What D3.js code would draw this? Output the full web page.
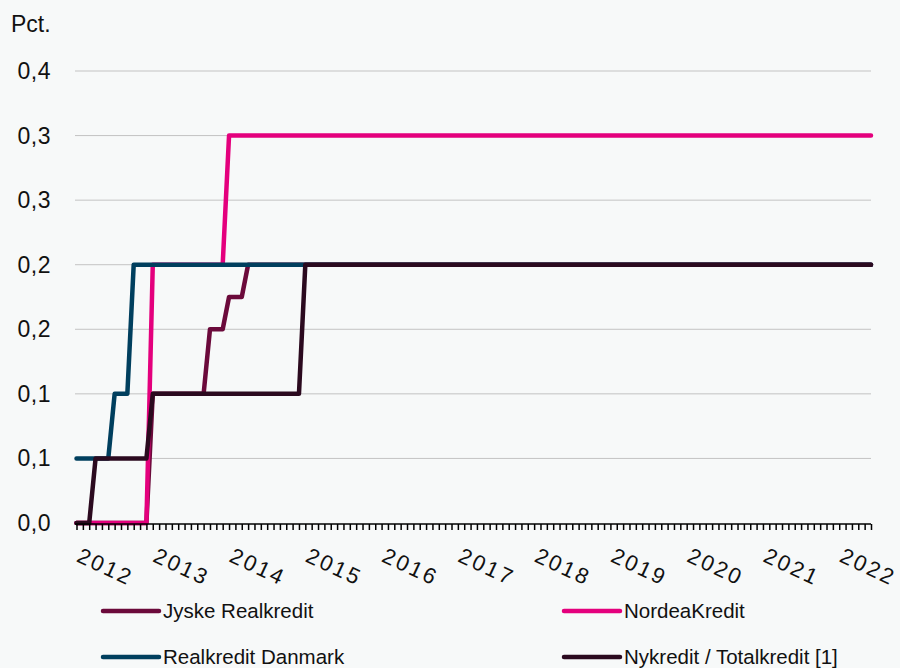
<!DOCTYPE html>
<html>
<head>
<meta charset="utf-8">
<script src="https://cdn.jsdelivr.net/npm/d3@7"></script>
<style>
  html, body { margin: 0; padding: 0; background: #f7f9f9; }
  svg { display: block; font-family: Arial, "Liberation Sans", sans-serif; }
</style>
</head>
<body>
<svg id="chart" width="900" height="668"></svg>
<script>
// ---- data ----
const startMonth = "2012-01";
const endMonth = "2022-06";
const yearLabels = ["2012","2013","2014","2015","2016","2017","2018","2019","2020","2021","2022"];
const yTicks = [0, 0.05, 0.10, 0.15, 0.20, 0.25, 0.30, 0.35];
const yTickLabels = ["0,0","0,1","0,1","0,2","0,2","0,3","0,3","0,4"];
const seriesNames = ["Jyske Realkredit", "NordeaKredit", "Realkredit Danmark", "Nykredit / Totalkredit [1]"];
const seriesColors = ["#6b0a3b", "#e4007d", "#003f5e", "#2b0a1f"];

const jyske = [
  0,0,0,0,0,0,0,0,0,0,0,0,
  .1,.1,.1,.1,.1,.1,.1,.1,.1,.15,.15,.15,
  .175,.175,.175,.2,.2,.2,.2,.2,.2,.2,.2,.2,
  .2,.2,.2,.2,.2,.2,.2,.2,.2,.2,.2,.2,
  .2,.2,.2,.2,.2,.2,.2,.2,.2,.2,.2,.2,
  .2,.2,.2,.2,.2,.2,.2,.2,.2,.2,.2,.2,
  .2,.2,.2,.2,.2,.2,.2,.2,.2,.2,.2,.2,
  .2,.2,.2,.2,.2,.2,.2,.2,.2,.2,.2,.2,
  .2,.2,.2,.2,.2,.2,.2,.2,.2,.2,.2,.2,
  .2,.2,.2,.2,.2,.2,.2,.2,.2,.2,.2,.2,
  .2,.2,.2,.2,.2,.2
];
const nordea = [
  0,0,0,0,0,0,0,0,0,0,0,0,
  .2,.2,.2,.2,.2,.2,.2,.2,.2,.2,.2,.2,
  .3,.3,.3,.3,.3,.3,.3,.3,.3,.3,.3,.3,
  .3,.3,.3,.3,.3,.3,.3,.3,.3,.3,.3,.3,
  .3,.3,.3,.3,.3,.3,.3,.3,.3,.3,.3,.3,
  .3,.3,.3,.3,.3,.3,.3,.3,.3,.3,.3,.3,
  .3,.3,.3,.3,.3,.3,.3,.3,.3,.3,.3,.3,
  .3,.3,.3,.3,.3,.3,.3,.3,.3,.3,.3,.3,
  .3,.3,.3,.3,.3,.3,.3,.3,.3,.3,.3,.3,
  .3,.3,.3,.3,.3,.3,.3,.3,.3,.3,.3,.3,
  .3,.3,.3,.3,.3,.3
];
const realkredit = [
  .05,.05,.05,.05,.05,.05,.1,.1,.1,.2,.2,.2,
  .2,.2,.2,.2,.2,.2,.2,.2,.2,.2,.2,.2,
  .2,.2,.2,.2,.2,.2,.2,.2,.2,.2,.2,.2,
  .2,.2,.2,.2,.2,.2,.2,.2,.2,.2,.2,.2,
  .2,.2,.2,.2,.2,.2,.2,.2,.2,.2,.2,.2,
  .2,.2,.2,.2,.2,.2,.2,.2,.2,.2,.2,.2,
  .2,.2,.2,.2,.2,.2,.2,.2,.2,.2,.2,.2,
  .2,.2,.2,.2,.2,.2,.2,.2,.2,.2,.2,.2,
  .2,.2,.2,.2,.2,.2,.2,.2,.2,.2,.2,.2,
  .2,.2,.2,.2,.2,.2,.2,.2,.2,.2,.2,.2,
  .2,.2,.2,.2,.2,.2
];
const nykredit = [
  0,0,0,.05,.05,.05,.05,.05,.05,.05,.05,.05,
  .1,.1,.1,.1,.1,.1,.1,.1,.1,.1,.1,.1,
  .1,.1,.1,.1,.1,.1,.1,.1,.1,.1,.1,.1,
  .2,.2,.2,.2,.2,.2,.2,.2,.2,.2,.2,.2,
  .2,.2,.2,.2,.2,.2,.2,.2,.2,.2,.2,.2,
  .2,.2,.2,.2,.2,.2,.2,.2,.2,.2,.2,.2,
  .2,.2,.2,.2,.2,.2,.2,.2,.2,.2,.2,.2,
  .2,.2,.2,.2,.2,.2,.2,.2,.2,.2,.2,.2,
  .2,.2,.2,.2,.2,.2,.2,.2,.2,.2,.2,.2,
  .2,.2,.2,.2,.2,.2,.2,.2,.2,.2,.2,.2,
  .2,.2,.2,.2,.2,.2
];
const seriesValues = [jyske, nordea, realkredit, nykredit];

// ---- build ----
const parseM = d3.timeParse("%Y-%m");
const fmtM = d3.timeFormat("%Y-%m");
const months = d3.timeMonth.range(parseM(startMonth), d3.timeMonth.offset(parseM(endMonth), 1)).map(fmtM);

const svg = d3.select("#chart");
const plotLeft = 76.5, plotRight = 871, plotTop = 71, plotBottom = 523;

const x = d3.scalePoint().domain(months).range([plotLeft, plotRight]);
const y = d3.scaleLinear().domain([0, 0.35]).range([plotBottom, plotTop]);

// gridlines
svg.append("g").selectAll("line")
  .data(yTicks.filter(d => d > 0))
  .join("line")
  .attr("x1", 75).attr("x2", plotRight)
  .attr("y1", d => y(d)).attr("y2", d => y(d))
  .attr("stroke", "#c3c3c3").attr("stroke-width", 1);

// y labels
svg.append("g").selectAll("text")
  .data(yTicks)
  .join("text")
  .attr("x", 51).attr("y", d => y(d) + 8)
  .attr("text-anchor", "end")
  .attr("font-size", 23)
  .attr("letter-spacing", 0.5)
  .attr("fill", "#111")
  .text((d, i) => yTickLabels[i]);

svg.append("text")
  .attr("x", 11).attr("y", 32)
  .attr("font-size", 23)
  .attr("fill", "#111")
  .text("Pct.");

// lines
const line = d3.line().x((d, i) => x(months[i])).y(d => y(d));
svg.append("g").selectAll("path")
  .data(seriesValues)
  .join("path")
  .attr("d", d => line(d))
  .attr("fill", "none")
  .attr("stroke", (d, i) => seriesColors[i])
  .attr("stroke-width", 4.5)
  .attr("stroke-linejoin", "round")
  .attr("stroke-linecap", "round");

// x axis
const xAxis = d3.axisBottom(x).tickSize(6).tickFormat("");
const gx = svg.append("g").attr("transform", `translate(0,${plotBottom + 1})`).call(xAxis);
gx.select(".domain").attr("stroke", "#000").attr("stroke-width", 1.5).attr("d", `M75,0H${plotRight}`);
gx.selectAll(".tick line").attr("stroke", "#000").attr("stroke-width", 1.5);

// year labels
svg.append("g").selectAll("text")
  .data(yearLabels)
  .join("text")
  .attr("transform", d => `translate(${x(d + "-01") - 1},561) rotate(25)`)
  .attr("font-size", 22)
  .attr("letter-spacing", 2.5)
  .attr("fill", "#111")
  .text(d => d);

// legend
const legendPos = [[103, 611], [564, 611], [103, 657], [564, 657]];
const lg = svg.append("g");
seriesNames.forEach((name, i) => {
  const [lx, ly] = legendPos[i];
  lg.append("line")
    .attr("x1", lx).attr("x2", lx + 56)
    .attr("y1", ly).attr("y2", ly)
    .attr("stroke", seriesColors[i])
    .attr("stroke-width", 4.5)
    .attr("stroke-linecap", "round");
  lg.append("text")
    .attr("x", lx + 60).attr("y", ly + 7)
    .attr("font-size", 20.5)
    .attr("fill", "#111")
    .text(name);
});
</script>
</body>
</html>
